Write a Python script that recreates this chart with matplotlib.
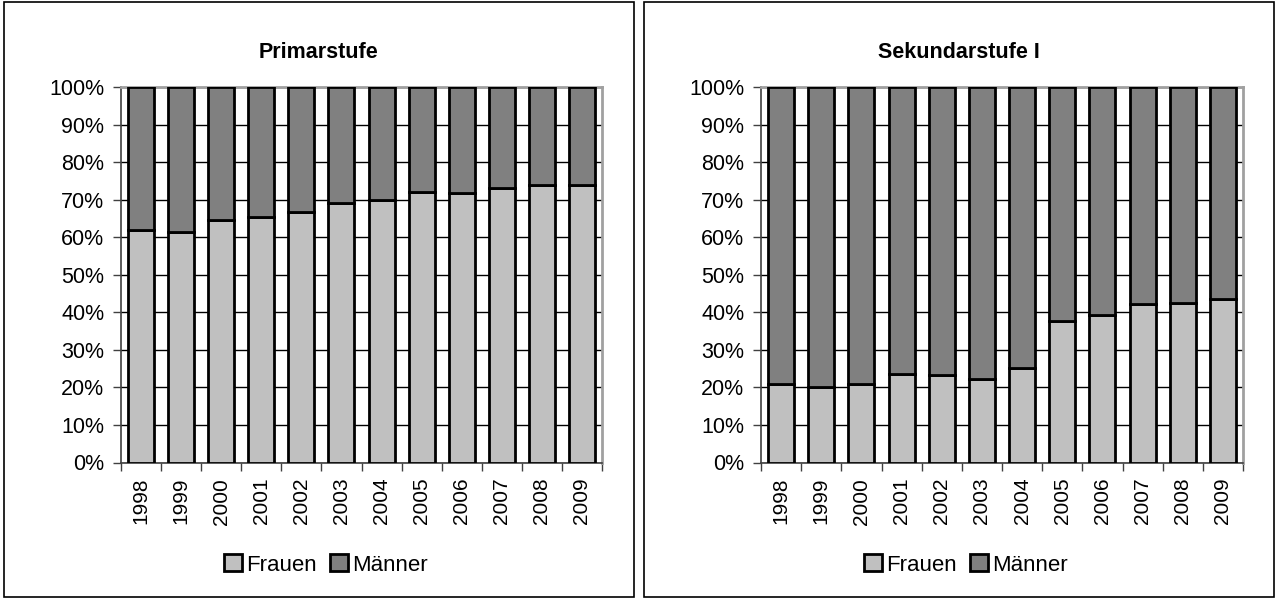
import matplotlib
matplotlib.use('agg')
import matplotlib.pyplot as plt
from matplotlib.patches import Rectangle, Patch
from matplotlib.ticker import PercentFormatter

plt.rcParams['font.family'] = ['Liberation Sans', 'DejaVu Sans']

jahre = ['1998', '1999', '2000', '2001', '2002', '2003', '2004', '2005', '2006', '2007', '2008', '2009']

# Anteil Frauen in Prozent, Rest sind Männer
primar_frauen = [62.0, 61.5, 64.5, 65.5, 66.7, 69.0, 70.0, 72.0, 71.7, 73.2, 73.8, 74.0]
sek1_frauen = [21.0, 20.0, 21.0, 23.5, 23.2, 22.3, 25.2, 37.6, 39.3, 42.2, 42.6, 43.5]

titel = ['Primarstufe', 'Sekundarstufe I']
farbe_f = '#c0c0c0'
farbe_m = '#808080'

W, H = 1275, 599
fig = plt.figure(figsize=(W / 100, H / 100), dpi=100)

# Panel-Rahmen und Achsen (Pixel)
panels = [(4, 634), (644, 1274)]
achsen = [(121, 602), (761, 1243)]
oben, unten = 87, 462.5

for i, frauen in enumerate([primar_frauen, sek1_frauen]):
    px0, px1 = panels[i]
    fig.patches.append(Rectangle((px0 / W, 2 / H), (px1 - px0) / W, (H - 4) / H,
                                 transform=fig.transFigure, fill=False,
                                 edgecolor='black', linewidth=1.2))
    ax0, ax1 = achsen[i]
    ax = fig.add_axes([ax0 / W, (H - unten) / H, (ax1 - ax0) / W, (unten - oben) / H])
    maenner = [100 - f for f in frauen]
    x = range(len(jahre))
    ax.bar(x, frauen, width=0.65, color=farbe_f, edgecolor='black', linewidth=2, zorder=3)
    ax.bar(x, maenner, bottom=frauen, width=0.65, color=farbe_m, edgecolor='black',
           linewidth=2, zorder=3)
    ax.set_xlim(-0.5, len(jahre) - 0.5)
    ax.set_ylim(0, 100)
    ax.set_yticks(range(0, 101, 10))
    ax.yaxis.set_major_formatter(PercentFormatter(decimals=0))
    ax.yaxis.grid(True, color='black', linewidth=1)
    ax.set_axisbelow(True)
    ax.set_xticks([k - 0.5 for k in range(len(jahre) + 1)])
    ax.set_xticklabels([])
    ax.set_xticks(list(x), minor=True)
    ax.set_xticklabels(jahre, minor=True, rotation=90)
    ax.tick_params(axis='x', which='major', length=6, width=1, direction='out', color='#404040')
    ax.tick_params(axis='x', which='minor', length=0, pad=11, labelsize=15)
    ax.tick_params(axis='y', length=6, width=1, color='#404040', labelsize=15.5, pad=6)
    for s in ['left', 'bottom']:
        ax.spines[s].set_color('#404040')
        ax.spines[s].set_linewidth(1.2)
    for s in ['top', 'right']:
        ax.spines[s].set_color('#a0a0a0')
        ax.spines[s].set_linewidth(2)
    mitte = (px0 + px1) / 2 / W
    fig.text(mitte, 1 - 52 / H, titel[i], ha='center', va='center', fontsize=15.5, fontweight='bold')
    handles = [Patch(facecolor=farbe_f, edgecolor='black', linewidth=2, label='Frauen'),
               Patch(facecolor=farbe_m, edgecolor='black', linewidth=2, label='Männer')]
    fig.legend(handles=handles, loc='center', bbox_to_anchor=(mitte + 7 / W, 1 - 565 / H), ncol=2,
               frameon=False, fontsize=16, handlelength=0.8, handleheight=0.8,
               handletextpad=0.2, columnspacing=0.6, borderpad=0)

fig.savefig('out.png', dpi=100)
